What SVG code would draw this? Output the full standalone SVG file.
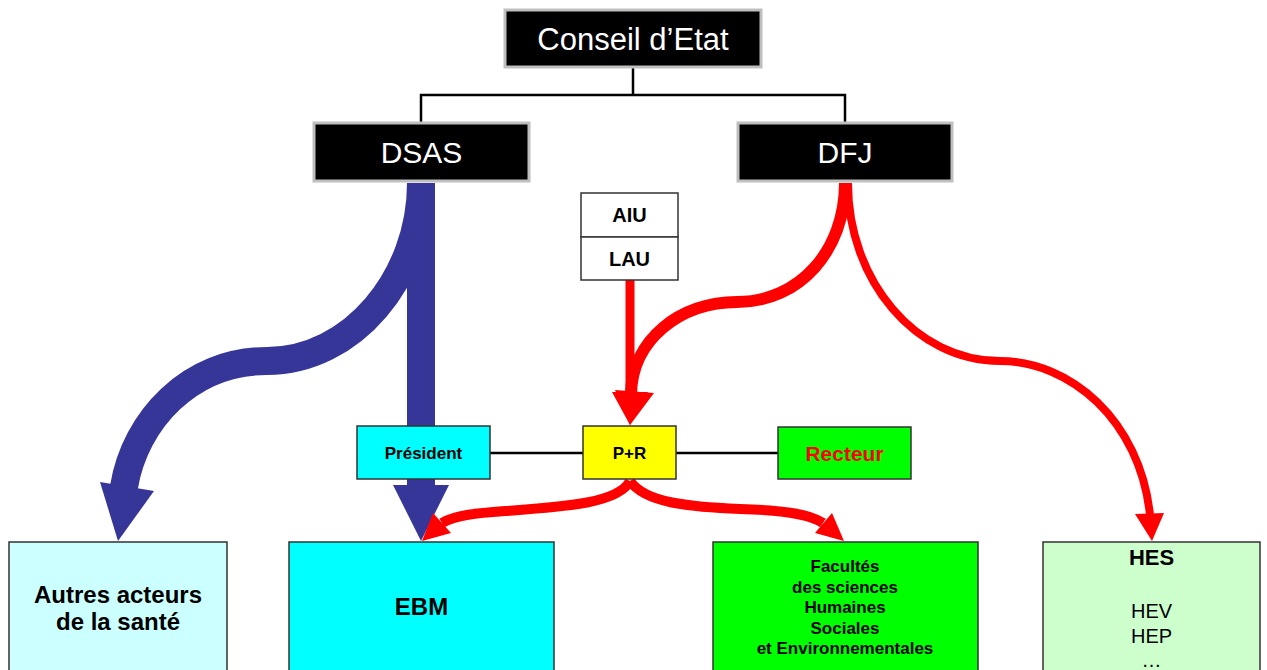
<svg xmlns="http://www.w3.org/2000/svg" width="1267" height="670" viewBox="0 0 1267 670">
<style>
text{font-family:"Liberation Sans",Arial,sans-serif;text-anchor:middle}
.top rect{fill:#000;stroke:#BFBFBF;stroke-width:3}
.top text{fill:#fff;font-size:30px}
.box{stroke:#333;stroke-width:1.5}
.b{font-weight:bold;fill:#000}
.tree{fill:none;stroke:#000;stroke-width:2.5}
.blue{fill:none;stroke:#363699}
.bluef{fill:#363699}
.red{fill:none;stroke:#FF0000}
.redf{fill:#FF0000}
</style>
<g id="connectors">
<path class="tree" d="M633 68V95M421 122V95H845V122"/>
<line x1="490" y1="453" x2="583" y2="453" stroke="#000" stroke-width="2.5"/>
<line x1="676" y1="453" x2="778" y2="453" stroke="#000" stroke-width="2.5"/>
<path class="blue" stroke-width="28" d="M421 183C421 278 352 361 267 361C190 361 135 420 124 487"/>
<polygon class="bluef" points="100,482 154,491 118,541"/>
<rect class="bluef" x="407" y="183" width="28" height="303"/>
<polygon class="bluef" points="393,485 449,485 421,541"/>
<path class="red" stroke-width="8" d="M848 183C848 281 916 361 1000 361C1070 361 1140 420 1150 515"/>
<polygon class="redf" points="1135,514 1164,513 1152,541"/>
<path class="red" stroke-width="12" d="M845 183C845 250 800 302 737 302C680 302 632 340 631 394"/>
<line x1="630" y1="280" x2="630" y2="394" stroke="#FF0000" stroke-width="9"/>
<polygon class="redf" points="612,392 648,392 630,425"/>
<polygon class="redf" points="615,390 654,393 630,425"/>
<path class="red" stroke-width="10" d="M630 481C618 504 560 507 505 511C478 513 455 515 442 523"/>
<polygon class="redf" points="433,513 451,533 422,541"/>
<path class="red" stroke-width="10" d="M630 481C645 503 690 507 740 509C778 510 808 513 823 523"/>
<polygon class="redf" points="832,513 815,533 844,541"/>
</g>
<g id="conseil" class="top"><rect x="505" y="10" width="256" height="57"/><text x="633" y="50" style="font-size:31px">Conseil d’Etat</text></g>
<g id="dsas" class="top"><rect x="314" y="123" width="215" height="58"/><text x="421.5" y="163">DSAS</text></g>
<g id="dfj" class="top"><rect x="738" y="123" width="214" height="58"/><text x="845" y="163">DFJ</text></g>
<g id="aiu"><rect class="box" x="581" y="193" width="97" height="44" fill="#fff"/><text class="b" x="629.5" y="222" font-size="20">AIU</text></g>
<g id="lau"><rect class="box" x="581" y="237" width="97" height="43" fill="#fff"/><text class="b" x="629.5" y="266" font-size="20">LAU</text></g>
<g id="president"><rect class="box" x="357" y="426" width="133" height="53" fill="#00FFFF"/><text class="b" x="423.5" y="458.5" font-size="17">Président</text></g>
<g id="pr"><rect class="box" x="583" y="426" width="93" height="53" fill="#FFFF00"/><text class="b" x="629.5" y="458.5" font-size="17">P+R</text></g>
<g id="recteur"><rect class="box" x="778" y="427" width="133" height="52" fill="#00FF00"/><text class="b" x="844.5" y="460.5" font-size="21" style="fill:#FF0000">Recteur</text></g>
<g id="autres"><rect class="box" x="9" y="542" width="218" height="140" fill="#CCFFFF"/><text class="b" x="118" y="603" font-size="24">Autres acteurs</text><text class="b" x="118" y="630" font-size="24">de la santé</text></g>
<g id="ebm"><rect class="box" x="289" y="542" width="265" height="140" fill="#00FFFF"/><text class="b" x="421.5" y="615" font-size="24">EBM</text></g>
<g id="facultes"><rect class="box" x="713" y="542" width="265" height="140" fill="#00FF00"/>
<text class="b" x="845" y="572" font-size="17">Facultés</text>
<text class="b" x="845" y="593" font-size="17">des sciences</text>
<text class="b" x="845" y="613" font-size="17">Humaines</text>
<text class="b" x="845" y="634" font-size="17">Sociales</text>
<text class="b" x="845" y="654" font-size="17">et Environnementales</text></g>
<g id="hes"><rect class="box" x="1043" y="542" width="217" height="140" fill="#CCFFCC"/>
<text class="b" x="1151.5" y="565" font-size="22">HES</text>
<text x="1151.5" y="618" font-size="20">HEV</text>
<text x="1151.5" y="643" font-size="20">HEP</text>
<text x="1151.5" y="667" font-size="20">…</text></g>
</svg>
